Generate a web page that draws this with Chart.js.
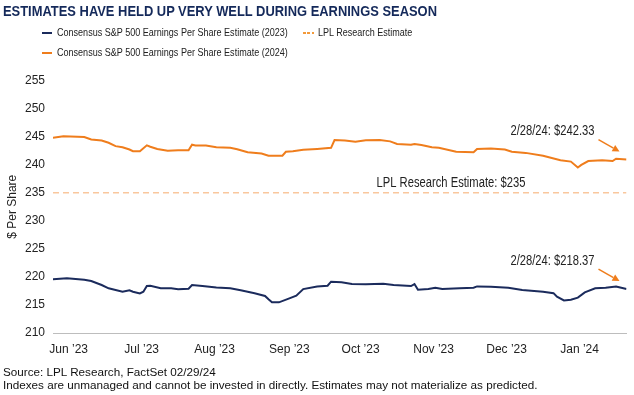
<!DOCTYPE html>
<html>
<head>
<meta charset="utf-8">
<script src="https://cdn.jsdelivr.net/npm/chart.js@4.4.1/dist/chart.umd.min.js"></script>
<style>
  body { margin: 0; background: #fff; }
  #wrap { position: relative; width: 634px; height: 395px; overflow: hidden; font-family: "Liberation Sans", Arial, sans-serif; color: #222; }
  #chart { position: absolute; left: 0; top: 0; }
  .title { position: absolute; left: 3px; top: 3.3px; font-size: 15px; line-height: 1; font-weight: bold; color: #14295a; white-space: nowrap; transform-origin: 0 0; }
  .leg { position: absolute; left: 57px; font-size: 11.5px; line-height: 1; white-space: nowrap; transform-origin: 0 0; }
  .mark { position: absolute; height: 2px; width: 10px; }
  .foot { position: absolute; left: 3px; font-size: 11.7px; line-height: 1; color: #111; white-space: nowrap; }
</style>
</head>
<body>
<div id="wrap">
  <canvas id="chart" width="634" height="395"></canvas>
  <div class="title" data-w="434">ESTIMATES HAVE HELD UP VERY WELL DURING EARNINGS SEASON</div>

  <div class="mark" style="left:42px; top:32px; background:#1b2b5c;"></div>
  <div class="leg" style="top:27.3px;" data-w="231">Consensus S&amp;P 500 Earnings Per Share Estimate (2023)</div>
  <div class="mark" style="left:303px; top:32px; width:11px; background:repeating-linear-gradient(to right, #f39a3b 0 3px, transparent 3px 4.5px);"></div>
  <div class="leg" style="left:318px; top:27.3px;" data-w="94">LPL Research Estimate</div>
  <div class="mark" style="left:42px; top:52px; background:#ef7d1c;"></div>
  <div class="leg" style="top:47.3px;" data-w="231">Consensus S&amp;P 500 Earnings Per Share Estimate (2024)</div>

  <div class="foot" style="top:366px;">Source: LPL Research, FactSet 02/29/24</div>
  <div class="foot" style="top:378.5px;">Indexes are unmanaged and cannot be invested in directly. Estimates may not materialize as predicted.</div>
</div>

<script>
// x = trading day index
const days2024 = [0, 3, 9, 11, 14, 16, 18, 20, 22, 23, 25, 27, 28, 30, 33, 36, 39, 40, 41, 44, 47, 51, 53, 56, 60, 62, 66, 67, 69, 72, 76, 80, 81, 84, 87, 90, 94, 97, 99, 103, 104, 106, 109, 111, 116, 121, 122, 126, 130, 132, 136, 141, 146, 149, 151, 152, 154, 158, 161, 162, 165];
const eps2024 = [244.8, 245.05, 244.93, 244.5, 244.3, 243.9, 243.3, 243.1, 242.7, 242.4, 242.4, 243.45, 243.2, 242.8, 242.5, 242.55, 242.55, 243.55, 243.4, 243.4, 243.1, 243.0, 242.75, 242.2, 242.0, 241.6, 241.6, 242.3, 242.4, 242.65, 242.8, 243.0, 244.4, 244.3, 244.1, 244.35, 244.4, 244.15, 243.7, 243.55, 243.7, 243.5, 243.1, 243.0, 242.3, 242.2, 242.8, 242.9, 242.7, 242.3, 242.1, 241.6, 240.8, 240.55, 239.5, 239.95, 240.65, 240.8, 240.65, 241.05, 240.9];

const days2023 = [0, 4, 9, 11, 14, 16, 20, 22, 23, 25, 26, 27, 28, 31, 34, 36, 39, 40, 43, 47, 51, 54, 58, 61, 62, 63, 65, 68, 70, 72, 76, 79, 80, 83, 86, 90, 95, 98, 103, 104, 105, 108, 110, 112, 117, 121, 122, 126, 131, 135, 141, 144, 145, 147, 149, 151, 153, 156, 159, 162, 165];
const eps2023 = [219.6, 219.74, 219.5, 219.26, 218.55, 217.96, 217.35, 217.6, 217.35, 217.06, 217.35, 218.37, 218.42, 217.96, 217.96, 217.8, 217.9, 218.55, 218.37, 218.1, 217.96, 217.6, 217.1, 216.6, 216.0, 215.46, 215.46, 216.18, 216.64, 217.83, 218.3, 218.42, 219.14, 219.03, 218.73, 218.67, 218.78, 218.55, 218.37, 218.73, 217.7, 217.83, 218.07, 217.83, 217.96, 218.07, 218.3, 218.25, 218.07, 217.65, 217.35, 217.1, 216.46, 215.8, 215.93, 216.3, 217.24, 217.96, 218.07, 218.3, 217.83];

const lplEstimate = 235;
const monthTicks = [4.5, 25.5, 46.5, 68, 88.5, 109.5, 130.5, 151.5];
const monthLabels = ["Jun \u201923", "Jul \u201923", "Aug \u201923", "Sep \u201923", "Oct \u201923", "Nov \u201923", "Dec \u201923", "Jan \u201924"];
const endLabels = ["2/28/24: $218.37", "2/28/24: $242.33"];

const NAVY = "#1b2b5c";
const ORANGE = "#ef7d1c";
const FONT = '"Liberation Sans", Arial, sans-serif';

// squeeze the html texts to the condensed widths of the original
document.querySelectorAll("[data-w]").forEach((el) => {
  el.style.transform = "scaleX(" + el.dataset.w / el.scrollWidth + ")";
});

const toPoints = (xs, ys) => xs.map((d, i) => ({ x: d, y: ys[i] }));

// condensed text on the canvas
function squeezeText(ctx, txt, x, y, align) {
  ctx.save();
  ctx.translate(x, y);
  ctx.scale(0.8, 1);
  ctx.textAlign = align;
  ctx.fillText(txt, 0, 0);
  ctx.restore();
}

// end-of-series notes with arrows, plus the LPL line label
const notes = {
  id: "notes",
  afterDatasetsDraw(chart) {
    const ctx = chart.ctx;
    const x = chart.scales.x;
    const y = chart.scales.y;
    ctx.save();
    ctx.font = "14px " + FONT;
    ctx.fillStyle = "#222";
    ctx.textBaseline = "middle";

    [[days2023, eps2023, endLabels[0]], [days2024, eps2024, endLabels[1]]].forEach(([d, v, txt]) => {
      const px = x.getPixelForValue(d[d.length - 1]);
      const py = y.getPixelForValue(v[v.length - 1]);
      ctx.fillStyle = "#222";
      squeezeText(ctx, txt, px - 32, py - 28, "right");

      const x0 = px - 28, y0 = py - 20, x1 = px - 7, y1 = py - 8;
      const a = Math.atan2(y1 - y0, x1 - x0);
      const len = 7, hw = 3.5;
      const bx = x1 - len * Math.cos(a), by = y1 - len * Math.sin(a);
      ctx.strokeStyle = ORANGE;
      ctx.lineWidth = 1.5;
      ctx.beginPath();
      ctx.moveTo(x0, y0);
      ctx.lineTo(bx, by);
      ctx.stroke();
      ctx.fillStyle = ORANGE;
      ctx.beginPath();
      ctx.moveTo(x1, y1);
      ctx.lineTo(bx - hw * Math.sin(a), by + hw * Math.cos(a));
      ctx.lineTo(bx + hw * Math.sin(a), by - hw * Math.cos(a));
      ctx.closePath();
      ctx.fill();
    });

    ctx.fillStyle = "#222";
    squeezeText(ctx, "LPL Research Estimate: $" + lplEstimate, x.getPixelForValue(114.5), y.getPixelForValue(lplEstimate) - 10, "center");
    ctx.restore();
  },
};

new Chart(document.getElementById("chart"), {
  type: "line",
  data: {
    datasets: [
      {
        label: "Consensus S&P 500 Earnings Per Share Estimate (2023)",
        data: toPoints(days2023, eps2023),
        borderColor: NAVY,
        borderWidth: 2,
        pointRadius: 0,
        tension: 0,
      },
      {
        label: "Consensus S&P 500 Earnings Per Share Estimate (2024)",
        data: toPoints(days2024, eps2024),
        borderColor: ORANGE,
        borderWidth: 2,
        pointRadius: 0,
        tension: 0,
      },
      {
        label: "LPL Research Estimate",
        data: [{ x: days2024[0], y: lplEstimate }, { x: days2024[days2024.length - 1], y: lplEstimate }],
        borderColor: "#f9c79d",
        borderWidth: 1.5,
        borderDash: [6, 4],
        pointRadius: 0,
      },
    ],
  },
  options: {
    responsive: false,
    animation: false,
    layout: { padding: { top: 80.5, right: 7.5, left: 0, bottom: 0 } },
    plugins: {
      legend: { display: false },
      tooltip: { enabled: false },
    },
    scales: {
      x: {
        type: "linear",
        min: 0,
        max: 165,
        grid: { display: false, drawTicks: false },
        border: { display: true, color: "#bdbdbd", width: 1 },
        afterFit: (s) => { s.height = 62; },
        afterBuildTicks: (s) => { s.ticks = monthTicks.map((v) => ({ value: v })); },
        ticks: {
          padding: 9,
          autoSkip: false,
          maxRotation: 0,
          color: "#222",
          font: { family: FONT, size: 12 },
          callback: (v) => monthLabels[monthTicks.indexOf(v)],
        },
      },
      y: {
        min: 210,
        max: 255,
        grid: { display: false, drawTicks: false },
        border: { display: false },
        afterFit: (s) => { s.width = 53; },
        ticks: {
          stepSize: 5,
          padding: 8,
          color: "#222",
          font: { family: FONT, size: 12 },
        },
        title: {
          display: true,
          text: "$ Per Share",
          color: "#222",
          padding: { top: 5, bottom: 4 },
          font: { family: FONT, size: 12 },
        },
      },
    },
  },
  plugins: [notes],
});
</script>
</body>
</html>
